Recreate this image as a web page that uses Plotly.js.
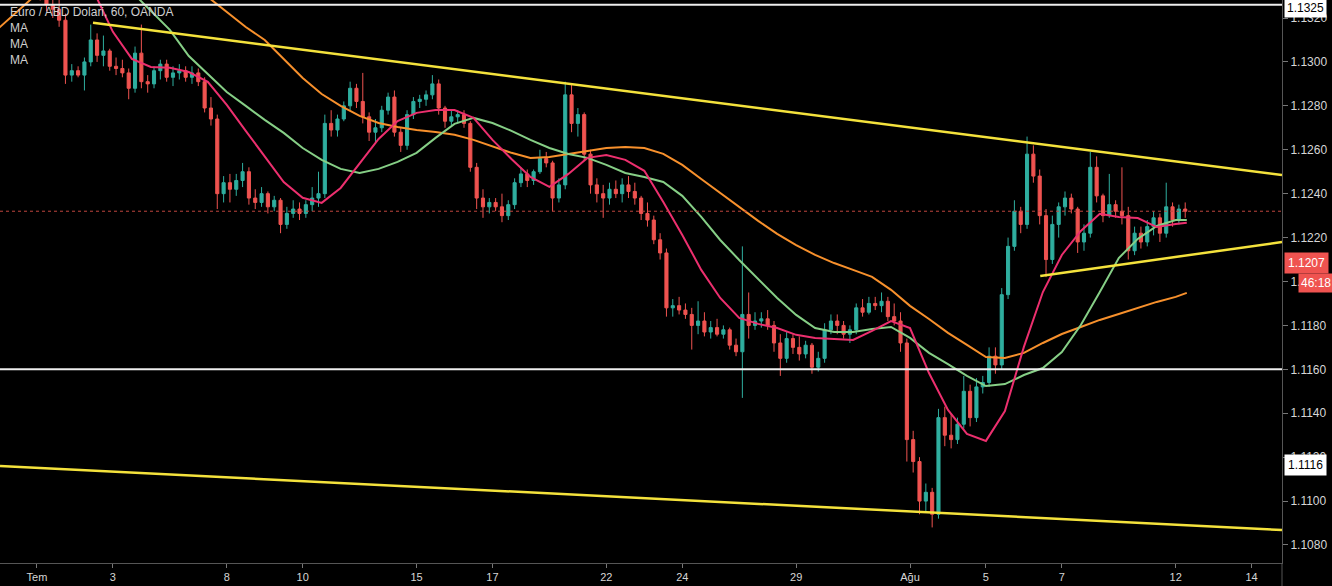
<!DOCTYPE html>
<html>
<head>
<meta charset="utf-8">
<script src="https://cdn.plot.ly/plotly-3.0.1.min.js"></script>
<style>html,body{margin:0;padding:0;background:#000;}#chart{width:1332px;height:586px;}</style>
</head>
<body>
<div id="chart"></div>
<script>
// ---- trading days shown by the candles (4-hour candles, 6 per day) ----
const candleDays = ['2019-07-01','2019-07-02','2019-07-03','2019-07-04','2019-07-05',
  '2019-07-08','2019-07-09','2019-07-10','2019-07-11','2019-07-12',
  '2019-07-15','2019-07-16','2019-07-17','2019-07-18','2019-07-19',
  '2019-07-22','2019-07-23','2019-07-24','2019-07-25','2019-07-26',
  '2019-07-29','2019-07-30','2019-07-31','2019-08-01','2019-08-02',
  '2019-08-05','2019-08-06','2019-08-07','2019-08-08','2019-08-09','2019-08-12'];
const blockHours = ['02:00','06:00','10:00','14:00','18:00','22:00'];

const open = [
 1.1334,1.1330,1.1326,1.1324,1.1319,1.1294,
 1.1296,1.1294,1.1300,1.1310,1.1303,1.1305,
 1.1298,1.1297,1.1295,1.1288,1.1304,1.1291,
 1.1290,1.1296,1.1299,1.1293,1.1295,1.1296,
 1.1293,1.1295,1.1291,1.1279,1.1274,1.1240,
 1.1245,1.1242,1.1246,1.1250,1.1238,1.1236,
 1.1240,1.1234,1.1237,1.1226,1.1231,1.1233,
 1.1231,1.1235,1.1238,1.1240,1.1272,1.1269,
 1.1274,1.1280,1.1288,1.1282,1.1275,1.1268,
 1.1270,1.1278,1.1284,1.1268,1.1262,1.1276,
 1.1282,1.1283,1.1285,1.1290,1.1279,1.1273,
 1.1275,1.1276,1.1272,1.1252,1.1238,1.1234,
 1.1236,1.1234,1.1230,1.1235,1.1245,1.1249,
 1.1246,1.1250,1.1256,1.1254,1.1238,1.1244,
 1.1285,1.1272,1.1276,1.1258,1.1244,1.1240,
 1.1238,1.1242,1.1240,1.1244,1.1241,1.1238,
 1.1231,1.1228,1.1219,1.1213,1.1188,1.1189,
 1.1187,1.1185,1.1180,1.1182,1.1177,1.1179,
 1.1176,1.1178,1.1171,1.1168,1.1185,1.1180,
 1.1182,1.1183,1.1180,1.1172,1.1165,1.1174,
 1.1170,1.1167,1.1171,1.1161,1.1165,1.1178,
 1.1182,1.1180,1.1176,1.1178,1.1188,1.1186,
 1.1190,1.1189,1.1191,1.1184,1.1182,1.1172,
 1.1128,1.1118,1.1100,1.1104,1.1094,1.1138,
 1.1130,1.1128,1.1135,1.1150,1.1138,1.1152,
 1.1154,1.1166,1.1162,1.1194,1.1216,1.1232,
 1.1226,1.1258,1.1248,1.1230,1.1210,1.1226,
 1.1234,1.1238,1.1233,1.1218,1.1222,1.1252,
 1.1239,1.1230,1.1235,1.1232,1.1230,1.1214,
 1.1222,1.1218,1.1225,1.1229,1.1222,1.1234,
 1.1228,1.1233];
const high = [
 1.1338,1.1334,1.1332,1.1330,1.1322,1.1299,
 1.1298,1.1302,1.1317,1.1313,1.1312,1.1306,
 1.1302,1.1301,1.1297,1.1307,1.1317,1.1294,
 1.1298,1.1301,1.1301,1.1298,1.1299,1.1298,
 1.1298,1.1297,1.1293,1.1284,1.1276,1.1248,
 1.1249,1.1249,1.1254,1.1252,1.1242,1.1243,
 1.1241,1.1239,1.1238,1.1234,1.1237,1.1236,
 1.1237,1.1243,1.1250,1.1276,1.1278,1.1276,
 1.1282,1.1291,1.1290,1.1295,1.1277,1.1274,
 1.1280,1.1286,1.1287,1.1270,1.1278,1.1284,
 1.1285,1.1287,1.1294,1.1292,1.1280,1.1278,
 1.1278,1.1278,1.1273,1.1254,1.1242,1.1238,
 1.1238,1.1240,1.1237,1.1247,1.1252,1.1251,
 1.1251,1.1260,1.1259,1.1255,1.1247,1.1291,
 1.1290,1.1279,1.1277,1.1260,1.1247,1.1244,
 1.1245,1.1246,1.1247,1.1248,1.1245,1.1239,
 1.1236,1.1230,1.1222,1.1215,1.1192,1.1193,
 1.1190,1.1188,1.1191,1.1186,1.1182,1.1183,
 1.1180,1.1179,1.1174,1.1216,1.1195,1.1186,
 1.1186,1.1187,1.1182,1.1176,1.1177,1.1176,
 1.1175,1.1173,1.1172,1.1168,1.1181,1.1185,
 1.1185,1.1182,1.1180,1.1190,1.1192,1.1193,
 1.1193,1.1195,1.1193,1.1190,1.1186,1.1174,
 1.1132,1.1120,1.1108,1.1106,1.1142,1.1143,
 1.1140,1.1138,1.1157,1.1153,1.1156,1.1157,
 1.1170,1.1170,1.1197,1.1220,1.1237,1.1234,
 1.1266,1.1262,1.1251,1.1233,1.1230,1.1236,
 1.1241,1.1240,1.1234,1.1226,1.1259,1.1257,
 1.1240,1.1249,1.1237,1.1252,1.1234,1.1225,
 1.1225,1.1228,1.1232,1.1231,1.1245,1.1236,
 1.1235,1.1236];
const low = [
 1.1328,1.1323,1.1320,1.1316,1.1290,1.1291,
 1.1293,1.1287,1.1298,1.1300,1.1298,1.1296,
 1.1294,1.1293,1.1283,1.1286,1.1288,1.1286,
 1.1288,1.1292,1.1291,1.1289,1.1292,1.1291,
 1.1290,1.1289,1.1277,1.1271,1.1233,1.1236,
 1.1236,1.1239,1.1243,1.1235,1.1233,1.1234,
 1.1231,1.1232,1.1222,1.1224,1.1229,1.1228,
 1.1229,1.1232,1.1234,1.1238,1.1266,1.1266,
 1.1273,1.1278,1.1279,1.1272,1.1264,1.1263,
 1.1268,1.1276,1.1266,1.1259,1.1260,1.1274,
 1.1279,1.1280,1.1283,1.1276,1.1270,1.1271,
 1.1272,1.1270,1.1250,1.1233,1.1229,1.1231,
 1.1232,1.1227,1.1228,1.1233,1.1243,1.1243,
 1.1244,1.1249,1.1252,1.1232,1.1236,1.1242,
 1.1268,1.1266,1.1255,1.1240,1.1236,1.1229,
 1.1235,1.1238,1.1236,1.1238,1.1235,1.1228,
 1.1225,1.1217,1.1210,1.1184,1.1184,1.1185,
 1.1183,1.1169,1.1176,1.1175,1.1174,1.1175,
 1.1174,1.1169,1.1166,1.1147,1.1174,1.1178,
 1.1179,1.1178,1.1168,1.1157,1.1163,1.1167,
 1.1164,1.1165,1.1158,1.1159,1.1163,1.1176,
 1.1176,1.1174,1.1172,1.1176,1.1184,1.1185,
 1.1187,1.1186,1.1182,1.1180,1.1168,1.1118,
 1.1113,1.1094,1.1095,1.1088,1.1092,1.1125,
 1.1124,1.1126,1.1133,1.1134,1.1136,1.1149,
 1.1152,1.1158,1.1160,1.1192,1.1214,1.1222,
 1.1224,1.1245,1.1226,1.1202,1.1208,1.1220,
 1.1230,1.1231,1.1213,1.1214,1.1220,1.1236,
 1.1227,1.1229,1.1229,1.1226,1.1210,1.1212,
 1.1215,1.1216,1.1221,1.1218,1.1220,1.1225,
 1.1226,1.1229];
const close = [
 1.1330,1.1326,1.1324,1.1319,1.1294,1.1296,
 1.1294,1.1300,1.1310,1.1303,1.1305,1.1298,
 1.1297,1.1295,1.1288,1.1304,1.1291,1.1290,
 1.1296,1.1299,1.1293,1.1295,1.1296,1.1293,
 1.1295,1.1291,1.1279,1.1274,1.1240,1.1245,
 1.1242,1.1246,1.1250,1.1238,1.1236,1.1240,
 1.1234,1.1237,1.1226,1.1231,1.1233,1.1231,
 1.1235,1.1238,1.1240,1.1272,1.1269,1.1274,
 1.1280,1.1288,1.1282,1.1275,1.1268,1.1270,
 1.1278,1.1284,1.1268,1.1262,1.1276,1.1282,
 1.1283,1.1285,1.1290,1.1279,1.1273,1.1275,
 1.1276,1.1272,1.1252,1.1238,1.1234,1.1236,
 1.1234,1.1230,1.1235,1.1245,1.1249,1.1246,
 1.1250,1.1256,1.1254,1.1238,1.1244,1.1285,
 1.1272,1.1276,1.1258,1.1244,1.1240,1.1238,
 1.1242,1.1240,1.1244,1.1241,1.1238,1.1231,
 1.1228,1.1219,1.1213,1.1188,1.1189,1.1187,
 1.1185,1.1180,1.1182,1.1177,1.1179,1.1176,
 1.1178,1.1171,1.1168,1.1185,1.1180,1.1182,
 1.1183,1.1180,1.1172,1.1165,1.1174,1.1170,
 1.1167,1.1171,1.1161,1.1165,1.1178,1.1182,
 1.1180,1.1176,1.1178,1.1188,1.1186,1.1190,
 1.1189,1.1191,1.1184,1.1182,1.1172,1.1128,
 1.1118,1.1100,1.1104,1.1094,1.1138,1.1130,
 1.1128,1.1135,1.1150,1.1138,1.1152,1.1154,
 1.1166,1.1162,1.1194,1.1216,1.1232,1.1226,
 1.1258,1.1248,1.1230,1.1210,1.1226,1.1234,
 1.1238,1.1233,1.1218,1.1222,1.1252,1.1239,
 1.1230,1.1235,1.1232,1.1230,1.1214,1.1222,
 1.1218,1.1225,1.1229,1.1222,1.1234,1.1228,
 1.1233,1.1232];

// ---- moving averages, sampled every 12 hours ----
const maDays = ['2019-06-28','2019-07-01','2019-07-02','2019-07-03','2019-07-04','2019-07-05',
  '2019-07-08','2019-07-09','2019-07-10','2019-07-11','2019-07-12',
  '2019-07-15','2019-07-16','2019-07-17','2019-07-18','2019-07-19',
  '2019-07-22','2019-07-23','2019-07-24','2019-07-25','2019-07-26',
  '2019-07-29','2019-07-30','2019-07-31','2019-08-01','2019-08-02',
  '2019-08-05','2019-08-06','2019-08-07','2019-08-08','2019-08-09'];
const maLastTimes = ['2019-08-12 00:00','2019-08-12 07:00'];
const maFast = [null,null,null,null,null,
 1.13319,1.13137,1.13014,1.12977,1.12973,1.12954,1.12909,
 1.12804,1.12686,1.12572,1.12453,1.12381,1.12358,1.12426,1.12535,1.12649,1.12731,
 1.12768,1.12781,1.12781,1.12745,1.12645,1.12558,1.12476,1.12431,1.12490,1.12563,
 1.12576,1.12554,1.12504,1.12362,1.12212,1.12053,1.11925,1.11834,1.11807,1.11788,
 1.11757,1.11743,1.11738,1.11734,1.11775,1.11820,1.11788,1.11583,1.11415,1.11306,
 1.11274,1.11410,1.11702,1.11952,1.12121,1.12230,1.12308,1.12294,1.12289,1.12248,
 1.12262,1.12267];
const maMid = [null,null,null,null,null,null,null,
 1.13319,1.13232,1.13146,1.13027,1.12945,
 1.12863,1.12800,1.12736,1.12677,1.12608,1.12554,1.12513,1.12494,1.12513,1.12545,
 1.12586,1.12654,1.12718,1.12745,1.12722,1.12686,1.12645,1.12608,1.12581,1.12563,
 1.12531,1.12494,1.12476,1.12453,1.12390,1.12294,1.12189,1.12098,1.12012,1.11925,
 1.11848,1.11788,1.11770,1.11770,1.11784,1.11793,1.11743,1.11675,1.11624,1.11570,
 1.11524,1.11533,1.11574,1.11606,1.11679,1.11802,1.11952,1.12107,1.12194,1.12253,
 1.12280,1.12280];
const maSlow = [1.13155,1.13232,1.13310,1.13364,1.13400,1.13419,1.13428,1.13428,1.13415,1.13396,
 1.13351,1.13296,1.13228,1.13159,1.13100,1.13014,1.12927,1.12854,1.12800,1.12754,
 1.12722,1.12704,1.12690,1.12681,1.12668,1.12645,1.12617,1.12586,1.12563,1.12567,
 1.12581,1.12595,1.12608,1.12613,1.12608,1.12581,1.12531,1.12467,1.12403,1.12340,
 1.12276,1.12217,1.12166,1.12121,1.12084,1.12053,1.12021,1.11962,1.11889,1.11829,
 1.11766,1.11711,1.11656,1.11652,1.11675,1.11720,1.11761,1.11793,1.11825,1.11852,
 1.11880,1.11907,1.11930,1.11948];

// ---- drawn lines ----
const trendUpperX = ['2019-07-02 11:25','2019-08-14 19:12'];
const trendUpperY = [1.13178, 1.12485];
const trendLowerX = ['2019-06-28 00:37','2019-08-14 19:12'];
const trendLowerY = [1.11160, 1.10868];
const trendSmallX = ['2019-08-06 10:20','2019-08-14 19:12'];
const trendSmallY = [1.12025, 1.12180];
const whiteLevels = [1.1326, 1.1160];

// ---- axis ticks ----
const xTickVals = ['2019-07-01','2019-07-03','2019-07-08','2019-07-10','2019-07-15','2019-07-17',
  '2019-07-22','2019-07-24','2019-07-29','2019-08-01','2019-08-05','2019-08-07','2019-08-12','2019-08-14'];
const xTickText = ['Tem','3','8','10','15','17','22','24','29','Ağu','5','7','12','14'];
const yTickVals = [1.108,1.110,1.112,1.114,1.116,1.118,1.120,1.122,1.124,1.126,1.128,1.130,1.132];

// ---- price labels on the right axis ----
const axisLabels = [
  {text:'1.1325', y:1.13245, bg:'#ffffff', fg:'#000000', x:0, pad:2},
  {text:'1.1207', y:1.12085, bg:'#ef5350', fg:'#ffffff', x:0, pad:3},
  {text:'46:18', y:1.11995, bg:'#ef5350', fg:'#ffffff', x:14, pad:2},
  {text:'1.1116', y:1.11164, bg:'#ffffff', fg:'#000000', x:0, pad:3}
];
const legendLines = ['Euro / ABD Dolari, 60, OANDA','MA','MA','MA'];

// build timestamps
const candleX = [];
candleDays.forEach(d => blockHours.forEach(h => candleX.push(d + ' ' + h)));
candleX.length = open.length;
const maX = [];
maDays.forEach(d => { maX.push(d + ' 00:00'); maX.push(d + ' 12:00'); });
maLastTimes.forEach(t => maX.push(t));

const FONT = 'Liberation Sans, Arial, sans-serif';
const traces = [
  {type:'candlestick', x:candleX, open:open, high:high, low:low, close:close,
   increasing:{line:{color:'#2fae9f', width:1}, fillcolor:'#2fae9f'},
   decreasing:{line:{color:'#ef5350', width:1}, fillcolor:'#ef5350'},
   whiskerwidth:0, hoverinfo:'skip'},
  {type:'scatter', mode:'lines', x:maX, y:maSlow, line:{color:'#f7902c', width:2}, hoverinfo:'skip'},
  {type:'scatter', mode:'lines', x:maX, y:maMid, line:{color:'#86cf86', width:2}, hoverinfo:'skip'},
  {type:'scatter', mode:'lines', x:maX, y:maFast, line:{color:'#ec2f6e', width:2}, hoverinfo:'skip'},
  {type:'scatter', mode:'lines', x:trendUpperX, y:trendUpperY, line:{color:'#f4e23c', width:2.5}, hoverinfo:'skip'},
  {type:'scatter', mode:'lines', x:trendLowerX, y:trendLowerY, line:{color:'#f4e23c', width:2.5}, hoverinfo:'skip'},
  {type:'scatter', mode:'lines', x:trendSmallX, y:trendSmallY, line:{color:'#f4e23c', width:2.5}, hoverinfo:'skip'}
];

const shapes = whiteLevels.map(v => ({type:'line', xref:'paper', x0:0, x1:1, yref:'y', y0:v, y1:v,
  line:{color:'#eeeeee', width:2}}));
shapes.push({type:'line', xref:'paper', x0:0, x1:1, yref:'y', y0:close[close.length-1], y1:close[close.length-1],
  line:{color:'#c0463f', width:1, dash:'dot'}});
shapes.push({type:'line', xref:'paper', x0:1, x1:1, yref:'paper', y0:-0.05, y1:0, line:{color:'#555555', width:1}});

const annotations = [];
legendLines.forEach((t, i) => annotations.push({xref:'paper', yref:'paper', x:8/1282, y:1 - (12 + i*16)/563,
  xanchor:'left', yanchor:'middle', text:t, showarrow:false, font:{family:FONT, size:12, color:'#cfcfcf'}}));
axisLabels.forEach(l => annotations.push({xref:'paper', yref:'y', x:1, y:l.y, xanchor:'left', yanchor:'middle',
  xshift:2 + l.x, text:l.text, showarrow:false, bgcolor:l.bg, borderpad:l.pad,
  font:{family:FONT, size:12, color:l.fg}}));

const layout = {
  width:1332, height:586,
  paper_bgcolor:'#000000', plot_bgcolor:'#000000',
  margin:{l:0, r:50, t:0, b:23},
  showlegend:false,
  xaxis:{type:'date', range:['2019-06-28 00:37','2019-08-14 19:12'],
    rangebreaks:[{bounds:['sat','mon']}],
    rangeslider:{visible:false},
    tickvals:xTickVals, ticktext:xTickText,
    showgrid:false, zeroline:false, showline:true, linecolor:'#555555', linewidth:1,
    ticks:'outside', ticklen:4, tickcolor:'#777777',
    tickfont:{family:FONT, size:11, color:'#d6d6d6'}},
  yaxis:{side:'right', range:[1.10718, 1.13282], tickvals:yTickVals, tickformat:'.4f',
    showgrid:false, zeroline:false, showline:true, linecolor:'#555555', linewidth:1,
    ticks:'outside', ticklen:5, tickcolor:'#777777',
    tickfont:{family:FONT, size:12, color:'#d6d6d6'}},
  shapes:shapes,
  annotations:annotations
};

Plotly.newPlot('chart', traces, layout, {displayModeBar:false, staticPlot:true});
</script>
</body>
</html>
